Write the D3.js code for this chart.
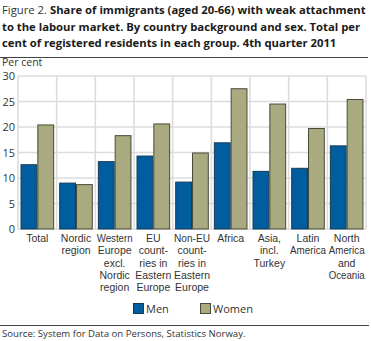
<!DOCTYPE html>
<html>
<head>
<meta charset="utf-8">
<script src="https://cdn.jsdelivr.net/npm/d3@7"></script>
<style>
  html, body { margin: 0; padding: 0; background: #fff; }
  svg { display: block; font-family: "Open Sans", "Noto Sans", sans-serif; }
</style>
</head>
<body>
<svg id="chart" width="371" height="341"></svg>
<script>
// Country background groups (label lines split for wrapping under the axis)
const categories = [
  ["Total"],
  ["Nordic", "region"],
  ["Western", "Europe", "excl.", "Nordic", "region"],
  ["EU", "count-", "ries in", "Eastern", "Europe"],
  ["Non-EU", "count-", "ries in", "Eastern", "Europe"],
  ["Africa"],
  ["Asia,", "incl.", "Turkey"],
  ["Latin", "America"],
  ["North", "America", "and", "Oceania"]
];
const seriesNames = ["Men", "Women"];
const men   = [12.7, 9.1, 13.3, 14.4, 9.3, 17.0, 11.4, 12.0, 16.4];
const women = [20.5, 8.8, 18.4, 20.7, 15.0, 27.6, 24.6, 19.8, 25.5];
const yTicks = [0, 5, 10, 15, 20, 25, 30];
const colors = ["#005d9e", "#a9aa7f"];

const titleLines = [
  ["Figure 2. ", "Share of immigrants (aged 20-66) with weak attachment"],
  ["", "to the labour market. By country background and sex. Total per"],
  ["", "cent of registered residents in each group. 4th quarter 2011"]
];
const yLabel = "Per cent";
const source = "Source: System for Data on Persons, Statistics Norway.";

const svg = d3.select("#chart");

// Title: one shared font size, chosen so the longest line fits the width
const titleMax = 364;
const titleTexts = titleLines.map((ln, i) => {
  const t = svg.append("text")
    .attr("x", 2).attr("y", 14 + i * 16.7)
    .attr("font-size", 13).attr("fill", "#1a1a1a");
  if (ln[0]) t.append("tspan").attr("font-weight", "normal").attr("fill", "#333").text(ln[0]);
  t.append("tspan").attr("font-weight", "bold").text(ln[1]);
  return t;
});
const widest = d3.max(titleTexts, t => t.node().getComputedTextLength());
const titleSize = Math.min(13, 13 * titleMax / widest);
titleTexts.forEach(t => t.attr("font-size", titleSize));

svg.append("line").attr("x1", 0).attr("x2", 368).attr("y1", 57.5).attr("y2", 57.5)
  .attr("stroke", "#444").attr("stroke-width", 1);

// Plot area
const plotL = 18, plotR = 366, plotT = 76, plotB = 229;
const idx = d3.range(categories.length);
const x = d3.scaleBand().domain(idx).range([plotL, plotR]).paddingInner(0).paddingOuter(0);
const x1 = d3.scaleBand().domain(seriesNames).range([0, x.bandwidth()]).paddingInner(0).paddingOuter(0.15);
const y = d3.scaleLinear().domain([0, 30]).range([plotB, plotT]);

svg.append("text").attr("x", 2).attr("y", 66).attr("font-size", 10.5).attr("fill", "#333").text(yLabel);

// Grid
const grid = svg.append("g").attr("stroke", "#dcdcdc").attr("stroke-width", 1.6);
yTicks.forEach(v => {
  grid.append("line").attr("x1", plotL).attr("x2", plotR).attr("y1", y(v)).attr("y2", y(v));
});
idx.concat([categories.length]).forEach(i => {
  const xx = i < categories.length ? x(i) : plotR;
  grid.append("line").attr("x1", xx).attr("x2", xx).attr("y1", plotT).attr("y2", plotB);
});

// Y axis labels
const yAxis = d3.axisLeft(y).tickValues(yTicks).tickSize(0).tickPadding(3);
const ya = svg.append("g").attr("transform", `translate(${plotL},0)`).call(yAxis);
ya.select(".domain").remove();
ya.selectAll("text").attr("font-size", 11).attr("fill", "#333")
  .attr("font-family", "Open Sans, sans-serif");

// Bars
const groups = svg.append("g").selectAll("g").data(idx).join("g")
  .attr("transform", i => `translate(${x(i)},0)`);
groups.selectAll("rect")
  .data(i => [men[i], women[i]].map((v, s) => ({ v, s })))
  .join("rect")
  .attr("x", d => x1(seriesNames[d.s]) + 0.5)
  .attr("y", d => y(d.v) + 0.5)
  .attr("width", x1.bandwidth() - 1)
  .attr("height", d => y(0) - y(d.v) - 0.5)
  .attr("fill", d => colors[d.s])
  .attr("stroke", d => d.s === 0 ? "#173a55" : "#4a4a3a")
  .attr("stroke-width", 1);

// Category labels, a compact face so stacked lines sit tightly
const xa = svg.append("g");
idx.forEach(i => {
  categories[i].forEach((ln, k) => {
    const sp = xa.append("text")
      .attr("text-anchor", "middle")
      .attr("font-family", "'Liberation Sans', Arial, sans-serif")
      .attr("font-size", 10.5).attr("fill", "#333")
      .attr("x", x(i) + x.bandwidth() / 2).attr("y", 242 + k * 12.3).text(ln);
    const w = sp.node().getComputedTextLength();
    if (w > 36) sp.attr("textLength", 36).attr("lengthAdjust", "spacingAndGlyphs");
  });
});

// Legend
const legend = svg.append("g");
[[133, 0], [200, 1]].forEach(([lx, s]) => {
  legend.append("rect").attr("x", lx + 0.5).attr("y", 303.5).attr("width", 10).attr("height", 10)
    .attr("fill", colors[s]).attr("stroke", s === 0 ? "#173a55" : "#4a4a3a");
  legend.append("text").attr("x", lx + 13).attr("y", 313).attr("font-size", 11).attr("fill", "#333")
    .text(seriesNames[s]);
});

// Source
svg.append("line").attr("x1", 0).attr("x2", 369).attr("y1", 325.5).attr("y2", 325.5)
  .attr("stroke", "#444").attr("stroke-width", 1);
svg.append("text").attr("x", 2).attr("y", 337).attr("font-size", 9.6).attr("fill", "#333").text(source);
</script>
</body>
</html>
